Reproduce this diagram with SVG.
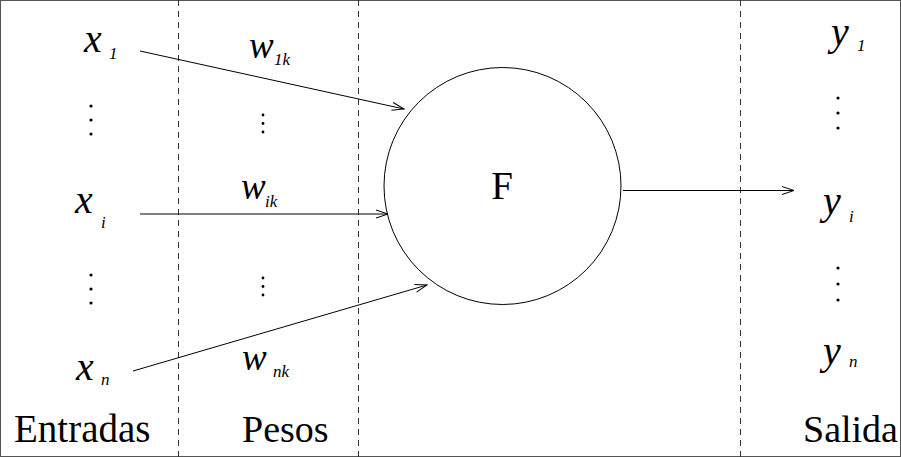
<svg xmlns="http://www.w3.org/2000/svg" width="901" height="457" viewBox="0 0 901 457">
<defs>
<marker id="ah" markerWidth="14" markerHeight="10" refX="13" refY="5" orient="auto" markerUnits="userSpaceOnUse">
<path d="M1,1 L13,5 L1,9" fill="none" stroke="#000" stroke-width="1"/>
</marker>
</defs>
<rect x="0.5" y="0.5" width="900" height="456" fill="#fff" stroke="#555" stroke-width="1"/>
<g id="grid" stroke="#333" stroke-width="1" stroke-dasharray="6,5" fill="none">
<line x1="178.5" y1="0" x2="178.5" y2="457"/>
<line x1="358.5" y1="0" x2="358.5" y2="457"/>
<line x1="740.5" y1="0" x2="740.5" y2="457"/>
</g>
<g id="node-F">
<circle cx="502.5" cy="186" r="118.5" fill="#fff" stroke="#000" stroke-width="1"/>
<text x="502" y="199" font-family="Liberation Serif" font-size="39" text-anchor="middle">F</text>
</g>
<g id="connectors" stroke="#000" stroke-width="1" fill="none" marker-end="url(#ah)">
<line x1="140" y1="51" x2="404" y2="109"/>
<line x1="140" y1="214" x2="388" y2="214"/>
<line x1="133" y1="371" x2="427" y2="285"/>
<line x1="623" y1="190.5" x2="794" y2="190.5"/>
</g>
<g id="inputs">
<text x="84" y="52" font-family="Liberation Serif" font-style="italic" font-size="40">x</text><text x="109" y="59" font-family="Liberation Serif" font-style="italic" font-size="17">1</text>
<text x="75" y="213" font-family="Liberation Serif" font-style="italic" font-size="40">x</text><text x="101" y="228" font-family="Liberation Serif" font-style="italic" font-size="17">i</text>
<text x="76" y="380" font-family="Liberation Serif" font-style="italic" font-size="40">x</text><text x="101" y="385" font-family="Liberation Serif" font-style="italic" font-size="17">n</text>
<g fill="#000">
<circle cx="91" cy="106" r="1.6"/><circle cx="91" cy="120" r="1.6"/><circle cx="91" cy="134" r="1.6"/>
<circle cx="91" cy="275" r="1.6"/><circle cx="91" cy="289" r="1.6"/><circle cx="91" cy="303" r="1.6"/>
</g>
</g>
<g id="weights">
<text x="249" y="58" font-family="Liberation Serif" font-style="italic" font-size="37">w</text><text x="274" y="65" font-family="Liberation Serif" font-style="italic" font-size="17">1k</text>
<text x="241" y="199" font-family="Liberation Serif" font-style="italic" font-size="37">w</text><text x="265" y="207" font-family="Liberation Serif" font-style="italic" font-size="17">ik</text>
<text x="242" y="370" font-family="Liberation Serif" font-style="italic" font-size="37">w</text><text x="273" y="377" font-family="Liberation Serif" font-style="italic" font-size="17">nk</text>
<g fill="#000">
<circle cx="263" cy="115" r="1.4"/><circle cx="263" cy="123.5" r="1.4"/><circle cx="263" cy="132" r="1.4"/>
<circle cx="263" cy="278" r="1.4"/><circle cx="263" cy="286.5" r="1.4"/><circle cx="263" cy="295" r="1.4"/>
</g>
</g>
<g id="outputs">
<text x="831" y="45" font-family="Liberation Serif" font-style="italic" font-size="40">y</text><text x="857" y="51" font-family="Liberation Serif" font-style="italic" font-size="17">1</text>
<text x="823" y="214" font-family="Liberation Serif" font-style="italic" font-size="40">y</text><text x="849" y="222" font-family="Liberation Serif" font-style="italic" font-size="17">i</text>
<text x="823" y="364" font-family="Liberation Serif" font-style="italic" font-size="40">y</text><text x="849" y="367" font-family="Liberation Serif" font-style="italic" font-size="17">n</text>
<g fill="#000">
<circle cx="838" cy="98" r="1.6"/><circle cx="838" cy="113" r="1.6"/><circle cx="838" cy="128" r="1.6"/>
<circle cx="838" cy="268" r="1.6"/><circle cx="838" cy="284" r="1.6"/><circle cx="838" cy="300" r="1.6"/>
</g>
</g>
<g id="labels">
<text x="14" y="442" font-family="Liberation Serif" font-size="39">Entradas</text>
<text x="242" y="442" font-family="Liberation Serif" font-size="38">Pesos</text>
<text x="803" y="442" font-family="Liberation Serif" font-size="38">Salida</text>
</g>
</svg>
